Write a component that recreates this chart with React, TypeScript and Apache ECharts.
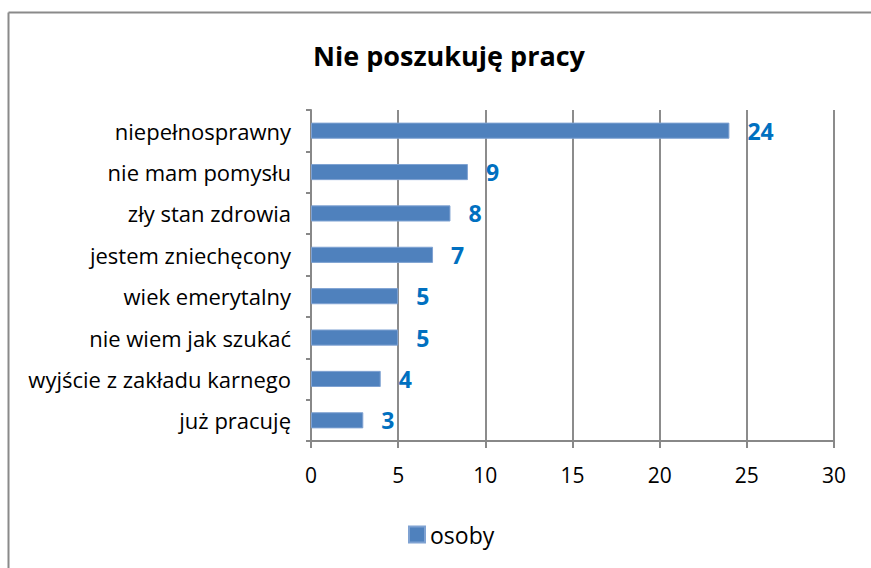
import React, { useEffect, useRef } from "react";
import * as echarts from "echarts";

const categories = [
  "niepełnosprawny",
  "nie mam pomysłu",
  "zły stan zdrowia",
  "jestem zniechęcony",
  "wiek emerytalny",
  "nie wiem jak szukać",
  "wyjście z zakładu karnego",
  "już pracuję",
];
const values = [24, 9, 8, 7, 5, 5, 4, 3];
const seriesName = "osoby";
const title = "Nie poszukuję pracy";

export default function App() {
  const ref = useRef<HTMLDivElement>(null);
  useEffect(() => {
    const chart = echarts.init(ref.current!, null, { renderer: "svg" });
    const font = "'Open Sans', sans-serif";
    chart.setOption({
      animation: false,
      backgroundColor: "#ffffff",
      graphic: [
        {
          type: "line",
          shape: { x1: 8.5, y1: 12.5, x2: 871, y2: 12.5 },
          style: { stroke: "#8a8a8a", lineWidth: 2 },
          silent: true,
        },
        {
          type: "line",
          shape: { x1: 8.5, y1: 12.5, x2: 8.5, y2: 568 },
          style: { stroke: "#8a8a8a", lineWidth: 2 },
          silent: true,
        },
      ],
      title: {
        text: title,
        left: 444,
        textAlign: "center",
        top: 37,
        textStyle: { fontFamily: font, fontSize: 27, fontWeight: "bold", color: "#000" },
      },
      legend: {
        data: [seriesName],
        left: 403,
        top: 518,
        icon: "rect",
        itemWidth: 16,
        itemHeight: 16,
        itemGap: 6,
        textStyle: { fontFamily: font, fontSize: 23, color: "#000" },
      },
      grid: { left: 311, right: 37, top: 110, bottom: 127, containLabel: false },
      xAxis: {
        type: "value",
        min: 0,
        max: 30,
        interval: 5,
        axisLine: { show: true, lineStyle: { color: "#888", width: 2 } },
        axisTick: { show: true, length: 7, lineStyle: { color: "#888", width: 2 } },
        splitLine: { show: true, lineStyle: { color: "#8c8c8c", width: 2 } },
        axisLabel: { margin: 23, fontFamily: font, fontSize: 21, color: "#000" },
      },
      yAxis: {
        type: "category",
        data: categories,
        inverse: true,
        axisLine: { show: true, lineStyle: { color: "#888", width: 2 } },
        axisTick: { show: true, length: 5, lineStyle: { color: "#888", width: 2 } },
        axisLabel: { margin: 20, fontFamily: font, fontSize: 22, color: "#000" },
      },
      series: [
        {
          name: seriesName,
          type: "bar",
          data: values,
          barCategoryGap: "61%",
          itemStyle: { color: "#4F81BD", borderColor: "#7FA2D2", borderWidth: 1 },
          label: {
            show: true,
            position: "right",
            distance: 18,
            fontFamily: font,
            fontSize: 23,
            fontWeight: "bold",
            color: "#0070C0",
          },
        },
      ],
    });
    return () => chart.dispose();
  }, []);
  return (
    <div
      ref={ref}
      style={{ position: "fixed", left: 0, top: 0, width: 871, height: 568 }}
    />
  );
}
